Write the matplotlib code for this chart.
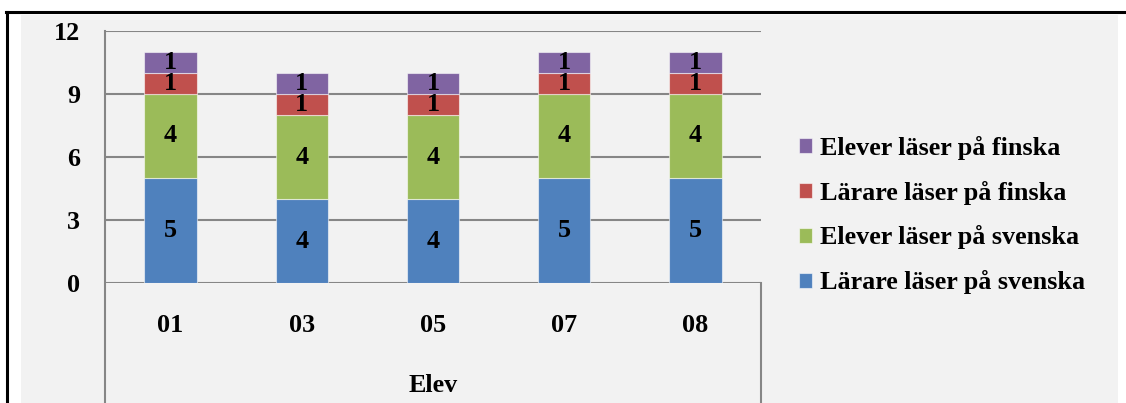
import matplotlib
matplotlib.use("Agg")
import matplotlib.pyplot as plt
import numpy as np
from matplotlib.lines import Line2D
from matplotlib.patches import Rectangle

elever = ["01", "03", "05", "07", "08"]
series_names = [
    "Lärare läser på svenska",
    "Elever läser på svenska",
    "Lärare läser på finska",
    "Elever läser på finska",
]
larare_svenska = [5, 4, 4, 5, 5]
elever_svenska = [4, 4, 4, 4, 4]
larare_finska = [1, 1, 1, 1, 1]
elever_finska = [1, 1, 1, 1, 1]
colors = ["#4F81BD", "#9BBB59", "#C0504D", "#8064A2"]
y_ticks = [0, 3, 6, 9, 12]

W, H = 1126, 403
FS = 18.8


def fx(px):
    return px / W


def fy(py):
    return 1 - py / H


def draw_frame(fig):
    # light grey chart area plus the black page border
    fig.patches.append(Rectangle((fx(21), 0), fx(1118) - fx(21), fy(15),
                                 transform=fig.transFigure, facecolor="#F2F2F2",
                                 edgecolor="none", zorder=-5))
    fig.lines.append(Line2D([fx(6), 1], [fy(12), fy(12)], transform=fig.transFigure,
                            color="black", lw=2.2, zorder=-4))
    fig.lines.append(Line2D([fx(7), fx(7)], [fy(12), 0], transform=fig.transFigure,
                            color="black", lw=2.2, zorder=-4))


def main():
    plt.rcParams["font.family"] = ["Liberation Serif", "DejaVu Serif"]
    plt.rcParams["font.weight"] = "bold"

    fig = plt.figure(figsize=(W / 100, H / 100), dpi=100, facecolor="white")
    draw_frame(fig)

    ax_h = fy(31) - fy(283)
    ax = fig.add_axes([fx(105), fy(283), fx(761) - fx(105), ax_h])
    ax.set_facecolor("none")

    x = np.arange(len(elever))
    stacks = [larare_svenska, elever_svenska, larare_finska, elever_finska]
    bottom = np.zeros(len(elever))
    handles = []
    for name, vals, col in zip(series_names, stacks, colors):
        bars = ax.bar(x, vals, width=0.4, bottom=bottom, color=col,
                      edgecolor=(1, 1, 1, 0.55), linewidth=0.8, label=name, zorder=3)
        ax.bar_label(bars, labels=[str(v) for v in vals], label_type="center",
                     fontsize=FS, fontweight="bold", color="black", zorder=4)
        handles.append(bars)
        bottom += np.array(vals)

    ax.set_xlim(-0.5, len(elever) - 0.5)
    ax.set_ylim(0, 12)
    ax.set_yticks(y_ticks)
    ax.set_yticklabels([str(t) for t in y_ticks], fontsize=FS, fontweight="bold")
    ax.tick_params(axis="y", length=0, pad=18)
    ax.set_xticks([])
    for t in y_ticks:
        ax.axhline(t, color="#868686", lw=1.5, zorder=1)
    for s in ax.spines.values():
        s.set_visible(False)

    # category axis box reaching down past the plot area
    ax.plot([0, 0], [1, -0.6], transform=ax.transAxes, color="#868686", lw=1.5,
            clip_on=False, zorder=1)
    ax.plot([1, 1], [0, -0.6], transform=ax.transAxes, color="#868686", lw=1.5,
            clip_on=False, zorder=1)

    lab_y = (fy(325) - fy(283)) / ax_h
    for xi, lab in zip(x, elever):
        ax.text((xi + 0.5) / len(elever), lab_y, lab, transform=ax.transAxes,
                ha="center", va="center", fontsize=FS, fontweight="bold")
    ax.text(0.5, (fy(386) - fy(283)) / ax_h, "Elev", transform=ax.transAxes,
            ha="center", va="center", fontsize=FS, fontweight="bold")

    fig.legend(handles[::-1], series_names[::-1], loc="center left",
               bbox_to_anchor=(fx(786), fy(215)), frameon=False,
               prop={"size": FS, "weight": "bold"}, handlelength=0.5,
               handleheight=0.5, handletextpad=0.3, labelspacing=0.8, borderpad=0)

    fig.savefig("out.png", dpi=100, facecolor="white")


if __name__ == "__main__":
    main()
